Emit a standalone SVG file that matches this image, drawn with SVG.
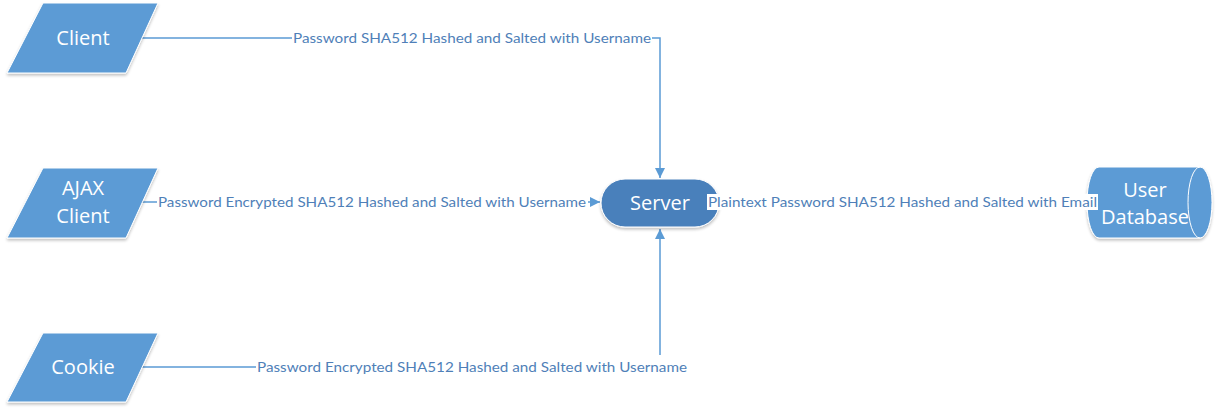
<svg xmlns="http://www.w3.org/2000/svg" width="1219" height="413" viewBox="0 0 1219 413">
<defs>
<marker id="arr" viewBox="0 0 10 10" refX="10" refY="5" markerWidth="10" markerHeight="10" markerUnits="userSpaceOnUse" orient="auto">
<path d="M0,0 L10,5 L0,10 z" fill="#5b9bd5"/>
</marker>
<filter id="sh" x="-10%" y="-10%" width="130%" height="140%">
<feGaussianBlur in="SourceAlpha" stdDeviation="1.5"/>
<feOffset dx="0" dy="2"/>
<feComponentTransfer><feFuncA type="linear" slope="0.25"/></feComponentTransfer>
<feMerge><feMergeNode/><feMergeNode in="SourceGraphic"/></feMerge>
</filter>
</defs>
<style>
.node{fill:#5b9bd5;stroke:#ffffff;stroke-width:1;filter:url(#sh)}
.srv{fill:#4a80bb;stroke:#ffffff;stroke-width:1;filter:url(#sh)}
.nt{font-family:"Open Sans","Liberation Sans",sans-serif;font-size:20px;fill:#ffffff;text-anchor:middle}
.conn{fill:none;stroke:#5b9bd5;stroke-width:1.5}
.lbl{font-family:Lato,"Liberation Sans",sans-serif;font-size:14px;fill:#4f7fb8}
.bg{fill:#ffffff}
</style>
<rect width="1219" height="413" fill="#ffffff"/>
<g id="connectors">
<path class="conn" d="M142,38 H660 V178" marker-end="url(#arr)"/>
<path class="conn" d="M142,202 H600" marker-end="url(#arr)"/>
<path class="conn" d="M142,367 H660 V229" marker-end="url(#arr)"/>
<path class="conn" d="M719,202 H1087"/>
<rect class="bg" x="292" y="30" width="360" height="16"/>
<text class="lbl" x="293" y="43" textLength="358" lengthAdjust="spacingAndGlyphs">Password SHA512 Hashed and Salted with Username</text>
<rect class="bg" x="157" y="194" width="431" height="16"/>
<text class="lbl" x="158" y="207" textLength="428" lengthAdjust="spacingAndGlyphs">Password Encrypted SHA512 Hashed and Salted with Username</text>
<rect class="bg" x="256" y="355" width="432" height="18"/>
<text class="lbl" x="257" y="372" textLength="430" lengthAdjust="spacingAndGlyphs">Password Encrypted SHA512 Hashed and Salted with Username</text>
</g>
<g id="client">
<polygon class="node" points="43,3 158,3 126,73 7,73"/>
<text class="nt" x="83" y="45">Client</text>
</g>
<g id="ajax">
<polygon class="node" points="43,168 158,168 126,238 7,238"/>
<text class="nt" x="83" y="195">AJAX</text>
<text class="nt" x="83" y="223">Client</text>
</g>
<g id="cookie">
<polygon class="node" points="43,333 158,333 126,402 7,402"/>
<text class="nt" x="83" y="374">Cookie</text>
</g>
<g id="server">
<rect class="srv" x="601" y="179" width="118" height="48" rx="24" ry="24"/>
<text class="nt" x="660" y="210">Server</text>
</g>
<g id="userdb">
<path class="node" d="M1099,167 H1200 A12,35.5 0 0 1 1200,238 H1099 A12,35.5 0 0 1 1099,167 z"/>
<path d="M1200,167 A12,35.5 0 0 0 1200,238" fill="none" stroke="#ffffff" stroke-width="1"/>
<text class="nt" x="1145" y="197">User</text>
<text class="nt" x="1145" y="224">Database</text>
</g>
<g id="db-label">
<rect class="bg" x="707" y="194" width="391" height="16"/>
<text class="lbl" x="708" y="207" textLength="389" lengthAdjust="spacingAndGlyphs">Plaintext Password SHA512 Hashed and Salted with Email</text>
</g>
</svg>
